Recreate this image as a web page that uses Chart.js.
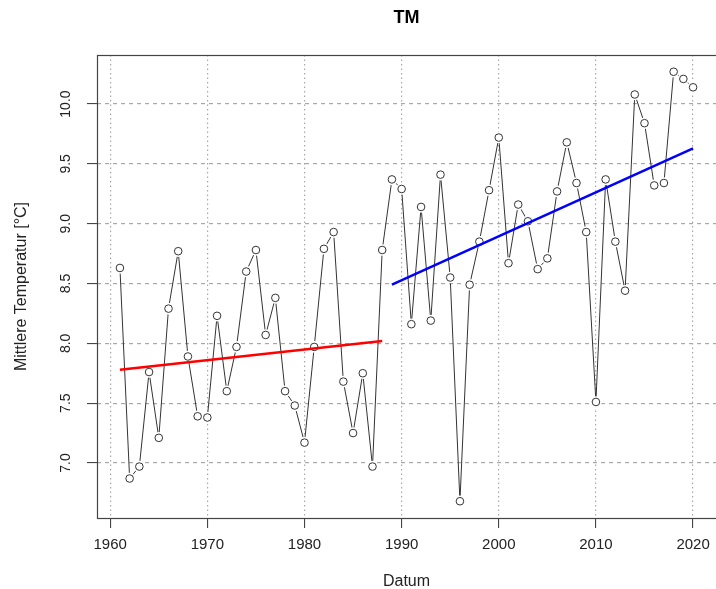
<!DOCTYPE html>
<html>
<head>
<meta charset="utf-8">
<script src="https://cdn.jsdelivr.net/npm/chart.js@4/dist/chart.umd.min.js"></script>
<style>
  body { margin: 0; background: #fff; }
  #wrap { width: 716px; height: 589px; }
</style>
</head>
<body>
<div id="wrap"><canvas id="tmChart"></canvas></div>
<script>
// Jahresmittel TM
const years = [
  1961, 1962, 1963, 1964, 1965, 1966, 1967, 1968, 1969, 1970,
  1971, 1972, 1973, 1974, 1975, 1976, 1977, 1978, 1979, 1980,
  1981, 1982, 1983, 1984, 1985, 1986, 1987, 1988, 1989, 1990,
  1991, 1992, 1993, 1994, 1995, 1996, 1997, 1998, 1999, 2000,
  2001, 2002, 2003, 2004, 2005, 2006, 2007, 2008, 2009, 2010,
  2011, 2012, 2013, 2014, 2015, 2016, 2017, 2018, 2019, 2020
];
const temps = [
  8.63, 6.87, 6.97, 7.76, 7.21, 8.29, 8.77, 7.89, 7.39, 7.38,
  8.23, 7.60, 7.97, 8.60, 8.78, 8.07, 8.38, 7.60, 7.48, 7.17,
  7.97, 8.79, 8.93, 7.68, 7.25, 7.75, 6.97, 8.78, 9.37, 9.29,
  8.16, 9.14, 8.19, 9.41, 8.55, 6.68, 8.49, 8.85, 9.28, 9.72,
  8.67, 9.16, 9.02, 8.62, 8.71, 9.27, 9.68, 9.34, 8.93, 7.51,
  9.37, 8.85, 8.44, 10.08, 9.84, 9.32, 9.34, 10.27, 10.21, 10.14
];

// Trendlinien (Endpunkte)
const trendRedYears = [1961, 1988];
const trendRedValues = [7.78, 8.02];
const trendBlueYears = [1989, 2020];
const trendBlueValues = [8.49, 9.63];

const xTicks = [1960, 1970, 1980, 1990, 2000, 2010, 2020];
const yTicks = [7.0, 7.5, 8.0, 8.5, 9.0, 9.5, 10.0];

const points = years.map((y, i) => ({ x: y, y: temps[i] }));
const redPts = trendRedYears.map((y, i) => ({ x: y, y: trendRedValues[i] }));
const bluePts = trendBlueYears.map((y, i) => ({ x: y, y: trendBlueValues[i] }));

Chart.defaults.font.family = "'Liberation Sans', Arial, sans-serif";
Chart.defaults.color = '#222';

// Rahmen um die Plotfläche + Titel über der Plotfläche zentrieren
const boxPlugin = {
  id: 'box',
  afterLayout(chart) {
    if (chart.titleBlock) {
      chart.titleBlock.left = chart.chartArea.left;
      chart.titleBlock.right = chart.chartArea.right;
    }
  },
  afterDraw(chart) {
    const a = chart.chartArea;
    const ctx = chart.ctx;
    ctx.save();
    ctx.strokeStyle = '#444';
    ctx.lineWidth = 1.2;
    // rechte Kante liegt im Original außerhalb des Bildes
    ctx.strokeRect(a.left + 0.5, a.top + 0.5, a.right - a.left + 2, a.bottom - a.top);
    ctx.restore();
  }
};

new Chart(document.getElementById('tmChart'), {
  type: 'scatter',
  data: {
    datasets: [
      {
        data: redPts, showLine: true, borderColor: '#ff0000', borderWidth: 2.5,
        pointRadius: 0, order: 0
      },
      {
        data: bluePts, showLine: true, borderColor: '#0000ff', borderWidth: 2.5,
        pointRadius: 0, order: 0
      },
      {
        data: points, showLine: false, pointRadius: 3.8, pointBorderWidth: 1,
        pointBorderColor: '#333', pointBackgroundColor: '#fff', order: 1
      },
      {
        // weißer Rand -> Lücke zwischen Linie und Kreis (type = "b")
        data: points, showLine: false, pointRadius: 5.8, pointBorderWidth: 0,
        pointBackgroundColor: '#fff', order: 2
      },
      {
        data: points, showLine: true, borderColor: '#333', borderWidth: 1,
        pointRadius: 0, tension: 0, order: 3
      }
    ]
  },
  options: {
    responsive: true,
    maintainAspectRatio: false,
    animation: false,
    layout: { padding: 0, autoPadding: false },
    plugins: {
      legend: { display: false },
      tooltip: { enabled: false },
      title: {
        display: true,
        text: 'TM',
        color: '#000',
        font: { size: 18, weight: 'bold' },
        padding: { top: 7, bottom: 26.4 }
      }
    },
    scales: {
      x: {
        type: 'linear',
        min: 1958.64,
        max: 2022.36,
        afterBuildTicks: s => { s.ticks = xTicks.map(v => ({ value: v })); },
        afterFit: s => { s.height = 71; s.paddingLeft = 0; s.paddingRight = 0; },
        ticks: {
          autoSkip: false, maxRotation: 0, padding: 8,
          font: { size: 15 }, color: '#222',
          callback: v => String(v)
        },
        grid: {
          color: '#a8a8a8', lineWidth: 1.2,
          tickColor: '#333', tickLength: 10, tickWidth: 1
        },
        border: { display: false, dash: [1.5, 3] },
        title: {
          display: true, text: 'Datum', color: '#222',
          font: { size: 16 }, padding: { top: 0, bottom: -2 }
        }
      },
      y: {
        type: 'linear',
        min: 6.54,
        max: 10.41,
        afterBuildTicks: s => { s.ticks = yTicks.map(v => ({ value: v })); },
        afterFit: s => { s.width = 97; s.paddingTop = 0; s.paddingBottom = 0; },
        ticks: {
          autoSkip: false, minRotation: 90, maxRotation: 90,
          crossAlign: 'center', padding: 7,
          font: { size: 14 }, color: '#222',
          callback: v => v.toFixed(1)
        },
        grid: {
          color: '#a8a8a8', lineWidth: 1.2,
          tickColor: '#333', tickLength: 10, tickWidth: 1
        },
        border: { display: false, dash: [4, 4] },
        title: {
          display: true, text: 'Mittlere Temperatur [°C]', color: '#222',
          font: { size: 16 }, padding: { top: 12, bottom: 0 }
        }
      }
    }
  },
  plugins: [boxPlugin]
});
</script>
</body>
</html>
